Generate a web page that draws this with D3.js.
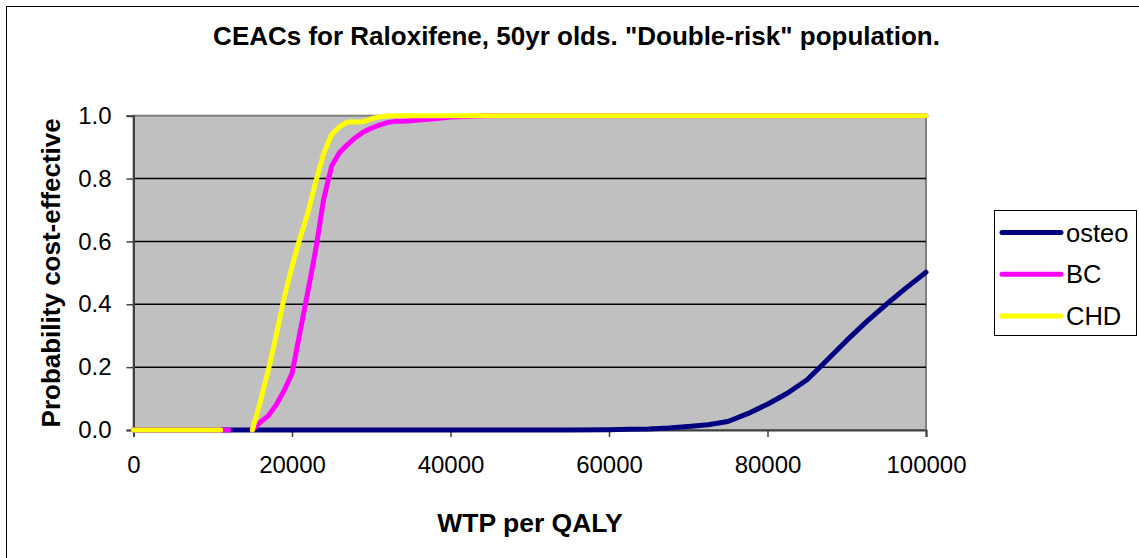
<!DOCTYPE html>
<html>
<head>
<meta charset="utf-8">
<script src="https://cdn.jsdelivr.net/npm/d3@7"></script>
<style>
    body { margin: 0; background: white; }
    svg { display: block; }
    text { font-family: "Liberation Sans", Arial, sans-serif; fill: black; }
</style>
</head>
<body>
<div id="viz"></div>
<script>
// WTP grid (x) and probabilities per series; null = gap in the sheet
const wtp = [0, 5000, 10000, 11000, 12000, 13000, 14000, 15000, 16000, 17000, 18000, 19000, 20000,
    21000, 22000, 23000, 24000, 25000, 26000, 27000, 28000, 29000, 30000, 31000, 32000, 33000, 34000,
    35000, 36000, 38000, 40000, 45000, 50000, 55000, 60000, 62500, 65000, 67500, 70000, 72500, 75000,
    77500, 80000, 82500, 85000, 87500, 90000, 92500, 95000, 97500, 100000];

const osteo = [0, 0, 0, 0, 0, 0, 0, 0, 0, 0, 0, 0, 0, 0, 0, 0, 0, 0, 0, 0, 0, 0, 0, 0, 0, 0, 0,
    0, 0, 0, 0, 0, 0, 0, 0.001, 0.002, 0.003, 0.006, 0.011, 0.017, 0.027, 0.052, 0.082, 0.117, 0.16,
    0.222, 0.285, 0.345, 0.40, 0.452, 0.502];

const bc = [0, 0, 0, 0, 0, null, null, 0, 0.025, 0.045, 0.08, 0.125, 0.18, 0.31, 0.44, 0.575, 0.735,
    0.84, 0.883, 0.908, 0.93, 0.948, 0.96, 0.97, 0.978, 0.982, 0.982, 0.984, 0.986, 0.99, 0.996,
    1, 1, 1, 1, 1, 1, 1, 1, 1, 1, 1, 1, 1, 1, 1, 1, 1, 1, 1, 1];

const chd = [0, 0, 0, 0, null, null, null, 0, 0.09, 0.19, 0.30, 0.42, 0.52, 0.61, 0.69, 0.79, 0.88,
    0.94, 0.965, 0.98, 0.98, 0.981, 0.99, 0.996, 0.999, 1, 1, 1, 1, 1, 1, 1, 1, 1, 1, 1, 1, 1, 1,
    1, 1, 1, 1, 1, 1, 1, 1, 1, 1, 1, 1];

const seriesNames = ["osteo", "BC", "CHD"];
const seriesColors = ["#000080", "#FF00FF", "#FFFF00"];
const xTicks = [0, 20000, 40000, 60000, 80000, 100000];
const yTicks = [0, 0.2, 0.4, 0.6, 0.8, 1.0];

document.addEventListener("DOMContentLoaded", () => {
    const width = 1139;
    const height = 558;

    const plot = { left: 133.5, right: 926, top: 115.7, bottom: 430 };

    const svg = d3.select("#viz").append("svg")
        .attr("width", width)
        .attr("height", height);

    // chart area border (runs off the right/bottom of the picture)
    svg.append("rect")
        .attr("x", 6.5).attr("y", 6.5)
        .attr("width", 1160).attr("height", 570)
        .attr("fill", "white")
        .attr("stroke", "black");

    const x = d3.scaleLinear().domain([0, 100000]).range([plot.left, plot.right]);
    const y = d3.scaleLinear().domain([0, 1]).range([plot.bottom, plot.top]);

    svg.append("rect")
        .attr("x", plot.left).attr("y", plot.top)
        .attr("width", plot.right - plot.left).attr("height", plot.bottom - plot.top)
        .attr("fill", "#C0C0C0")
        .attr("stroke", "#808080")
        .attr("stroke-width", 2);

    svg.append("g")
        .selectAll("line")
        .data(yTicks.filter(t => t > 0 && t < 1))
        .enter()
        .append("line")
        .attr("x1", plot.left).attr("x2", plot.right)
        .attr("y1", d => y(d)).attr("y2", d => y(d))
        .attr("stroke", "black")
        .attr("stroke-width", 1.5);

    const yAxis = svg.append("g")
        .attr("transform", `translate(${plot.left},0)`)
        .call(d3.axisLeft(y).tickValues(yTicks).tickFormat(d3.format(".1f")).tickSize(7).tickPadding(15));

    const xAxis = svg.append("g")
        .attr("transform", `translate(0,${plot.bottom})`)
        .call(d3.axisBottom(x).tickValues(xTicks).tickFormat(d3.format("d")).tickSize(7).tickPadding(14));

    [yAxis, xAxis].forEach(ax => {
        ax.select(".domain").attr("stroke", "#404040").attr("stroke-width", 2);
        ax.selectAll(".tick line").attr("stroke", "#404040").attr("stroke-width", 1.5);
        ax.selectAll(".tick text")
            .style("font-size", "24px")
            .style("font-family", "'Liberation Sans', Arial, sans-serif")
            .attr("fill", "black");
    });
    xAxis.selectAll(".tick text").attr("dy", "0.9em");

    const allSeries = [osteo, bc, chd];

    const line = d3.line()
        .defined(d => d[1] !== null)
        .x(d => x(d[0]))
        .y(d => y(d[1]));

    allSeries.forEach((values, i) => {
        svg.append("path")
            .datum(wtp.map((w, j) => [w, values[j]]))
            .attr("d", line)
            .attr("fill", "none")
            .attr("stroke", seriesColors[i])
            .attr("stroke-width", 5)
            .attr("stroke-linejoin", "round")
            .attr("stroke-linecap", "round");
    });

    svg.append("text")
        .attr("x", 576.5).attr("y", 45)
        .attr("text-anchor", "middle")
        .style("font-size", "26px")
        .style("font-weight", "bold")
        .text("CEACs for Raloxifene, 50yr olds. \"Double-risk\" population.");

    svg.append("text")
        .attr("x", 530).attr("y", 532)
        .attr("text-anchor", "middle")
        .style("font-size", "26.5px")
        .style("font-weight", "bold")
        .text("WTP per QALY");

    svg.append("text")
        .attr("transform", `translate(60,${(plot.top + plot.bottom) / 2}) rotate(-90)`)
        .attr("text-anchor", "middle")
        .style("font-size", "26px")
        .style("font-weight", "bold")
        .text("Probability cost-effective");

    // legend
    const legend = svg.append("g");
    legend.append("rect")
        .attr("x", 994.5).attr("y", 210.5)
        .attr("width", 142).attr("height", 125)
        .attr("fill", "white")
        .attr("stroke", "black");

    seriesNames.forEach((name, i) => {
        const ly = 232.5 + i * 41.7;
        legend.append("line")
            .attr("x1", 1002).attr("x2", 1061)
            .attr("y1", ly).attr("y2", ly)
            .attr("stroke", seriesColors[i])
            .attr("stroke-width", 5)
            .attr("stroke-linecap", "round");
        legend.append("text")
            .attr("x", 1066).attr("y", ly)
            .attr("dy", "0.36em")
            .style("font-size", "25.5px")
            .text(name);
    });
});
</script>
</body>
</html>
